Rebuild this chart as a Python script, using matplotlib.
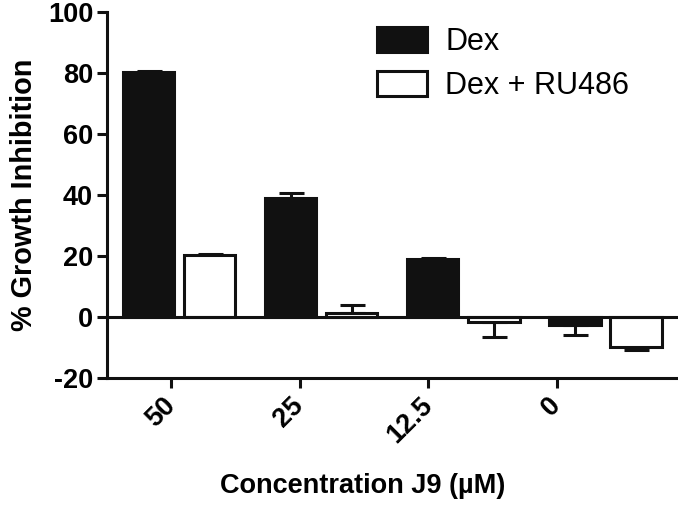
import numpy as np
import matplotlib
matplotlib.use("Agg")
import matplotlib.pyplot as plt

# data
concentrations = ["50", "25", "12.5", "0"]
dex = [80.3, 39.0, 19.0, -2.5]
dex_err = [0.4, 1.7, 0.4, 3.5]
dex_ru = [20.2, 1.4, -1.6, -9.7]
dex_ru_err = [0.5, 2.5, 4.8, 1.1]

plt.rcParams['font.family'] = ['Liberation Sans', 'DejaVu Sans']
plt.rcParams['axes.unicode_minus'] = False

fig = plt.figure(figsize=(6.78, 5.05), dpi=100)
ax = fig.add_axes([0.158, 0.2515, 0.842, 0.7245])

x = np.arange(len(concentrations))
w = 0.36
off = 0.215
lw = 2.2

def one_sided(vals, errs):
    # error bar points away from zero, like the original
    lo = [e if v < 0 else 0 for v, e in zip(vals, errs)]
    hi = [e if v >= 0 else 0 for v, e in zip(vals, errs)]
    return [lo, hi]

ax.bar(x - off, dex, w, color='#111111', edgecolor='#111111', linewidth=lw,
       label='Dex', zorder=3)
ax.bar(x + off, dex_ru, w, color='white', edgecolor='#111111', linewidth=lw,
       label='Dex + RU486', zorder=3)
ax.errorbar(x - off, dex, yerr=one_sided(dex, dex_err), fmt='none',
            ecolor='#111111', elinewidth=lw, capsize=9, capthick=lw, zorder=2)
ax.errorbar(x + off, dex_ru, yerr=one_sided(dex_ru, dex_ru_err), fmt='none',
            ecolor='#111111', elinewidth=lw, capsize=9, capthick=lw, zorder=2)

ax.axhline(0, color='#111111', linewidth=lw, zorder=4)

ax.set_xlim(-0.507, 3.51)
ax.set_ylim(-20, 100)
ax.set_yticks([-20, 0, 20, 40, 60, 80, 100])

# ticks in the original sit a little left of the bar groups
ax.set_xticks(x * 0.905 - 0.056)
ax.set_xticklabels(concentrations, rotation=45, ha='right', va='center',
                   rotation_mode='anchor')

for s in ['top', 'right']:
    ax.spines[s].set_visible(False)
for s in ['left', 'bottom']:
    ax.spines[s].set_linewidth(lw)
    ax.spines[s].set_color('#111111')

ax.tick_params(axis='both', width=lw, length=7, color='#111111',
               labelsize=19.5, pad=3)
ax.tick_params(axis='x', pad=10)
for t in ax.get_xticklabels() + ax.get_yticklabels():
    t.set_fontweight('bold')

ax.set_ylabel('% Growth Inhibition', fontsize=20.8, fontweight='bold', labelpad=7)
ax.set_xlabel('Concentration J9 (µM)', fontsize=19.5, fontweight='bold')
ax.xaxis.set_label_coords(0.447, -0.26)

ax.legend(loc='upper left', bbox_to_anchor=(0.556, 0.947),
          bbox_transform=fig.transFigure, frameon=False, fontsize=22,
          handlelength=1.63, handleheight=0.9, handletextpad=0.6,
          labelspacing=0.45, borderpad=0, borderaxespad=0)

fig.savefig('out.png', dpi=100)
